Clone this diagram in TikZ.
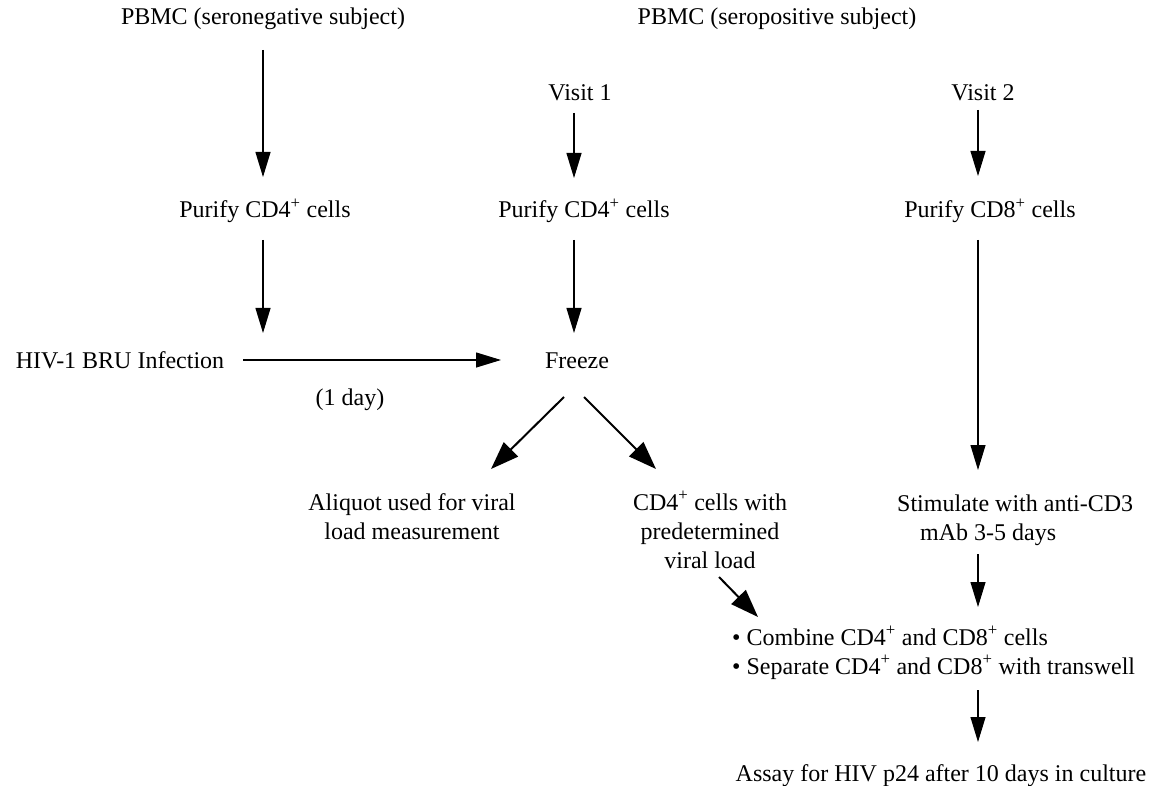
\documentclass[tikz,border=0pt]{standalone}
\usepackage{fontspec}
\setmainfont{Liberation Serif}
\usetikzlibrary{arrows.meta,calc}
\begin{document}
\begin{tikzpicture}[x=1pt,y=-1pt,
  lbl/.style={inner sep=0pt, anchor=base, font=\fontsize{24}{29}\selectfont},
  mlbl/.style={lbl, align=center},
  arr/.style={line width=1.1pt, -{Triangle[length=25pt,width=15pt]}},
  diag/.style={line width=2pt, -{Triangle[length=28pt,width=20pt]}}]
\fill[white] (0,0) rectangle (1151,786);
\useasboundingbox (0,0) rectangle (1151,786);

\node[lbl] (pbmcN) at (263,25) {PBMC (seronegative subject)};
\node[lbl] (pbmcP) at (777,25) {PBMC (seropositive subject)};
\node[lbl] (visit1) at (580,101) {Visit 1};
\node[lbl] (visit2) at (983,101) {Visit 2};
\node[lbl] (purL) at (265,218) {Purify CD4\textsuperscript{+} cells};
\node[lbl] (purM) at (584,218) {Purify CD4\textsuperscript{+} cells};
\node[lbl] (purR) at (990,218) {Purify CD8\textsuperscript{+} cells};
\node[lbl] (hiv) at (120,368) {HIV-1 BRU Infection};
\node[lbl] (freeze) at (577,368) {Freeze};
\node[lbl] (day) at (350,405) {(1 day)};
\node[mlbl] (aliq) at (412,539) {Aliquot used for viral\\load measurement};
\node[mlbl] (cd4v) at (710,568) {CD4\textsuperscript{+} cells with\\predetermined\\viral load};
\node[lbl, anchor=base west, align=left] (stim) at (897,540) {Stimulate with anti-CD3\\\hspace*{23pt}mAb 3-5 days};
\node[lbl, anchor=base west, align=left] (comb) at (732,674) {\textbullet\ Combine CD4\textsuperscript{+} and CD8\textsuperscript{+} cells\\\textbullet\ Separate CD4\textsuperscript{+} and CD8\textsuperscript{+} with transwell};
\node[lbl] (assay) at (941,781) {Assay for HIV p24 after 10 days in culture};

\draw[arr] ($(pbmcN.base)+(0,25)$) -- ($(purL.base)+(-2,-41)$);
\draw[arr] ($(visit1.base)+(-6,12)$) -- ($(purM.base)+(-10,-40)$);
\draw[arr] ($(visit2.base)+(-5,9)$) -- ($(purR.base)+(-12,-42)$);
\draw[arr] ($(purL.base)+(-2,22)$) -- ($(hiv.base)+(143,-35)$);
\draw[arr] ($(purM.base)+(-10,22)$) -- ($(freeze.base)+(-3,-35)$);
\draw[arr] ($(purR.base)+(-12,22)$) -- ($(stim.base west)+(81,-70)$);
\draw[arr] ($(hiv.base)+(123,-8)$) -- ($(freeze.base)+(-76,-8)$);
\draw[diag] ($(freeze.base)+(-13,29)$) -- ($(aliq.base)+(79,-70)$);
\draw[diag] ($(freeze.base)+(7,29)$) -- ($(cd4v.base)+(-54,-99)$);
\draw[diag] ($(cd4v.base)+(9,9)$) -- ($(comb.base west)+(26,-57)$);
\draw[arr] ($(stim.base west)+(81,14)$) -- ($(comb.base west)+(246,-67)$);
\draw[arr] ($(comb.base west)+(246,16)$) -- ($(assay.base)+(37,-39)$);
\end{tikzpicture}
\end{document}
